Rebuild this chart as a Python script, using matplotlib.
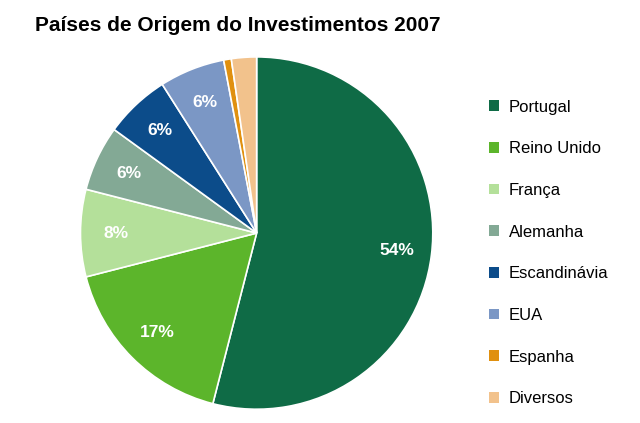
import matplotlib
matplotlib.use("Agg")
import matplotlib.pyplot as plt
from matplotlib.patches import Patch
import numpy as np

categories = ["Portugal", "Reino Unido", "França", "Alemanha", "Escandinávia", "EUA", "Espanha", "Diversos"]
values = [54, 17, 8, 6, 6, 6, 0.7, 2.3]
labels = ["54%", "17%", "8%", "6%", "6%", "6%", "", ""]
colors = ["#0f6b46", "#5cb52b", "#b4e09a", "#83a995", "#0c4c8a", "#7b97c5", "#e0900f", "#f2c28c"]

fig = plt.figure(figsize=(6.4, 4.23), dpi=100)
ax = fig.add_axes([0.123, 0.028, 0.556, 0.842])
wedges, _ = ax.pie(values, colors=colors, startangle=90, counterclock=False,
                   wedgeprops=dict(edgecolor="white", linewidth=1.2))
for w, lab in zip(wedges, labels):
    if not lab:
        continue
    ang = np.deg2rad((w.theta1 + w.theta2) / 2)
    ax.text(0.8 * np.cos(ang), 0.8 * np.sin(ang), lab, color="white", fontsize=12.5,
            fontweight="bold", ha="center", va="center", family="Liberation Sans")
ax.set_xlim(-1.01, 1.01)
ax.set_ylim(-1.01, 1.01)
ax.set_aspect("equal")
fig.text(0.055, 0.94, "Países de Origem do Investimentos 2007", fontsize=15,
         fontweight="bold", family="Liberation Sans", va="center")
handles = [Patch(facecolor=c, edgecolor="none") for c in colors]
fig.legend(handles, categories, loc="upper left", bbox_to_anchor=(0.74, 0.80),
           frameon=False, handlelength=0.6, handleheight=0.6, labelspacing=1.6,
           handletextpad=0.6, prop={"family": "Liberation Sans", "size": 12})
fig.savefig("out.png", dpi=100)
